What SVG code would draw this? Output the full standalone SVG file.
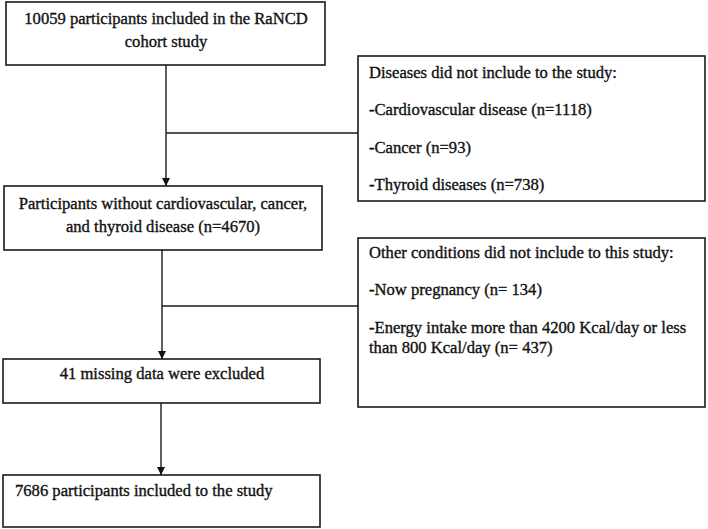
<svg xmlns="http://www.w3.org/2000/svg" width="708" height="529" viewBox="0 0 708 529">
<defs>
<marker id="arr" viewBox="0 0 10 10" refX="10" refY="5" markerWidth="8" markerHeight="9" markerUnits="userSpaceOnUse" orient="auto">
<path d="M0,0 L10,5 L0,10 z" fill="#111"/>
</marker>
<style>
.box{fill:#fff;stroke:#1a1a1a;stroke-width:1.6}
.t{font-family:"Liberation Serif","Times New Roman",serif;font-size:16.6px;fill:#111;stroke:#111;stroke-width:0.35}
.c{text-anchor:middle}
.ln{fill:none;stroke:#1a1a1a;stroke-width:1.4}
</style>
</defs>
<rect width="708" height="529" fill="#fff"/>
<g id="connectors">
<line class="ln" x1="166" y1="65" x2="166" y2="186" marker-end="url(#arr)"/>
<line class="ln" x1="166" y1="133" x2="358" y2="133"/>
<line class="ln" x1="162" y1="250" x2="162" y2="359" marker-end="url(#arr)"/>
<line class="ln" x1="162" y1="306" x2="358" y2="306"/>
<line class="ln" x1="161" y1="403" x2="161" y2="475" marker-end="url(#arr)"/>
</g>
<g id="n1">
<rect class="box" x="6" y="2" width="319" height="63"/>
<text class="t c" x="166" y="24">10059 participants included in the RaNCD</text>
<text class="t c" x="166" y="47">cohort study</text>
</g>
<g id="n2">
<rect class="box" x="358" y="56" width="347" height="145"/>
<text class="t" x="369" y="78">Diseases did not include to the study:</text>
<text class="t" x="369" y="115">-Cardiovascular disease (n=1118)</text>
<text class="t" x="369" y="153">-Cancer (n=93)</text>
<text class="t" x="369" y="190">-Thyroid diseases (n=738)</text>
</g>
<g id="n3">
<rect class="box" x="4" y="186" width="318" height="64"/>
<text class="t c" x="163" y="209">Participants without cardiovascular, cancer,</text>
<text class="t c" x="163" y="232">and thyroid disease (n=4670)</text>
</g>
<g id="n4">
<rect class="box" x="358" y="238" width="347" height="169"/>
<text class="t" x="369" y="258">Other conditions did not include to this study:</text>
<text class="t" x="369" y="295">-Now pregnancy (n= 134)</text>
<text class="t" x="369" y="333">-Energy intake more than 4200 Kcal/day or less</text>
<text class="t" x="369" y="353">than 800 Kcal/day (n= 437)</text>
</g>
<g id="n5">
<rect class="box" x="3" y="359" width="317" height="44"/>
<text class="t c" x="162" y="379">41 missing data were excluded</text>
</g>
<g id="n6">
<rect class="box" x="3" y="475" width="317" height="52"/>
<text class="t" x="15" y="496">7686 participants included to the study</text>
</g>
</svg>
